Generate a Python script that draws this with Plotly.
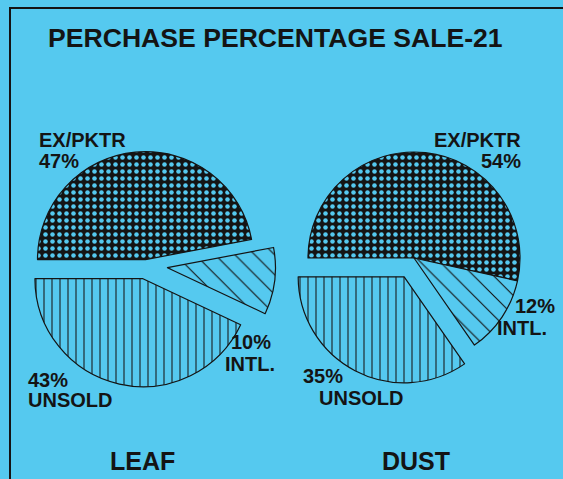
import plotly.graph_objects as go

# ---- data ----
title_text = "PERCHASE PERCENTAGE SALE-21"
categories = ["EX/PKTR", "UNSOLD", "INTL."]
leaf_values = [47, 43, 10]
dust_values = [54, 35, 12]
group_labels = ["LEAF", "DUST"]

W, H = 563, 479
BG = "#55C9EF"
INK = "#141414"
FONT = "Liberation Sans, Arial, sans-serif"


def px(x):
    return x / W


def py(y):
    return 1 - y / H


pattern = dict(
    shape=[".", "|", "\\"],
    bgcolor=[INK, BG, BG],
    fgcolor=[BG, INK, INK],
    size=[7, 8, 14],
    solidity=[0.33, 0.13, 0.08],
    fillmode="replace",
)


def pie(values, dom_x, dom_y, pull):
    return go.Pie(
        labels=categories,
        values=values,
        sort=False,
        direction="counterclockwise",
        rotation=-90,
        pull=pull,
        textinfo="none",
        hoverinfo="label+percent",
        showlegend=False,
        marker=dict(colors=[INK, BG, BG], line=dict(color=INK, width=1.2), pattern=pattern),
        domain=dict(x=dom_x, y=dom_y),
    )


fig = go.Figure()
fig.add_trace(pie(leaf_values, [px(16.4), px(275.6)], [py(394.6), py(135.4)], [0.05, 0.13, 0.2]))
fig.add_trace(pie(dust_values, [px(286.8), px(541.2)], [py(385.2), py(130.8)], [0.0, 0.2, 0.0]))

anns = []


def ann(text, x, y, anchor, size=20):
    anns.append(dict(text=text, x=px(x), y=py(y), xref="paper", yref="paper",
                     xanchor=anchor, yanchor="middle", showarrow=False,
                     font=dict(family=FONT, size=size, color=INK, weight="bold")))


ann(title_text, 275, 38, "center", 26.6)

# Leaf labels
ann(categories[0], 37, 140, "left")
ann(f"{leaf_values[0]}%", 37, 161, "left")
ann(f"{leaf_values[2]}%", 229, 342, "left")
ann(categories[2], 223, 364, "left")
ann(f"{leaf_values[1]}%", 26, 380, "left")
ann(categories[1], 26, 400, "left")

# Dust labels
ann(categories[0], 523, 140, "right")
ann(f"{dust_values[0]}%", 523, 161, "right")
ann(f"{dust_values[2]}%", 557, 306, "right")
ann(categories[2], 549, 328, "right")
ann(f"{dust_values[1]}%", 301, 376, "left")
ann(categories[1], 317, 398, "left")

ann(group_labels[0], 142, 461, "center", 25)
ann(group_labels[1], 416, 461, "center", 25)

fig.update_layout(
    width=W, height=H,
    margin=dict(l=0, r=0, t=0, b=0),
    paper_bgcolor=BG, plot_bgcolor=BG,
    annotations=anns,
    shapes=[dict(type="rect", xref="paper", yref="paper",
                 x0=px(10), x1=1.2, y0=-0.2, y1=py(8),
                 line=dict(color=INK, width=2), fillcolor="rgba(0,0,0,0)")],
)

fig.write_html(
    "out.html",
    config={"displayModeBar": False},
    post_script="document.body.style.margin='0';document.body.style.overflow='hidden';"
                "document.body.style.background='" + BG + "';",
)
